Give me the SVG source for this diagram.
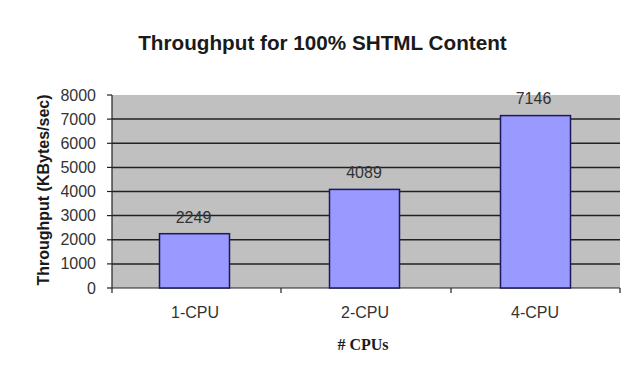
<svg xmlns="http://www.w3.org/2000/svg" width="627" height="371" viewBox="0 0 627 371">
<style>
.t{font-family:"Liberation Sans",Arial,sans-serif;font-size:16px;fill:#333}
.title{font-family:"Liberation Sans",Arial,sans-serif;font-size:20.7px;font-weight:bold;fill:#1a1a1a}
.ax{font-family:"Liberation Serif","Times New Roman",serif;font-size:16px;font-weight:bold;fill:#1a1a1a}
.yt{font-family:"Liberation Sans",Arial,sans-serif;font-size:16px;font-weight:bold;fill:#1a1a1a}
.grid{stroke:#222;stroke-width:1.5}
.bar{fill:#9999FF;stroke:#1a1a5a;stroke-width:1.5}
</style>
<rect width="627" height="371" fill="#ffffff"/>
<text class="title" x="322.5" y="50" text-anchor="middle">Throughput for 100% SHTML Content</text>
<g id="plot">
<rect x="112" y="95" width="508" height="193" fill="#c0c0c0"/>
<g class="grid">
<line x1="112" y1="119.1" x2="620" y2="119.1"/>
<line x1="112" y1="143.3" x2="620" y2="143.3"/>
<line x1="112" y1="167.4" x2="620" y2="167.4"/>
<line x1="112" y1="191.5" x2="620" y2="191.5"/>
<line x1="112" y1="215.6" x2="620" y2="215.6"/>
<line x1="112" y1="239.8" x2="620" y2="239.8"/>
<line x1="112" y1="263.9" x2="620" y2="263.9"/>
</g>
<g stroke="#222" stroke-width="1.2">
<line x1="112" y1="95" x2="112" y2="288"/>
<line x1="112" y1="288" x2="620" y2="288"/>
<line x1="107" y1="95" x2="112" y2="95"/>
<line x1="107" y1="119.1" x2="112" y2="119.1"/>
<line x1="107" y1="143.3" x2="112" y2="143.3"/>
<line x1="107" y1="167.4" x2="112" y2="167.4"/>
<line x1="107" y1="191.5" x2="112" y2="191.5"/>
<line x1="107" y1="215.6" x2="112" y2="215.6"/>
<line x1="107" y1="239.8" x2="112" y2="239.8"/>
<line x1="107" y1="263.9" x2="112" y2="263.9"/>
<line x1="107" y1="288" x2="112" y2="288"/>
<line x1="112" y1="288" x2="112" y2="293"/>
<line x1="281" y1="288" x2="281" y2="293"/>
<line x1="451" y1="288" x2="451" y2="293"/>
<line x1="620" y1="288" x2="620" y2="293"/>
</g>
</g>
<g id="yticks" class="t" text-anchor="end">
<text x="96" y="100.5">8000</text>
<text x="96" y="124.6">7000</text>
<text x="96" y="148.8">6000</text>
<text x="96" y="172.9">5000</text>
<text x="96" y="197">4000</text>
<text x="96" y="221.1">3000</text>
<text x="96" y="245.3">2000</text>
<text x="96" y="269.4">1000</text>
<text x="96" y="293.5">0</text>
</g>
<g id="bar1"><rect class="bar" x="159.5" y="233.7" width="70" height="54.3"/><text class="t" x="193.5" y="222.5" text-anchor="middle">2249</text></g>
<g id="bar2"><rect class="bar" x="329.5" y="189.4" width="70" height="98.6"/><text class="t" x="364" y="177.5" text-anchor="middle">4089</text></g>
<g id="bar3"><rect class="bar" x="500.5" y="115.6" width="70" height="172.4"/><text class="t" x="533.5" y="103.5" text-anchor="middle">7146</text></g>
<g id="xlabels" class="t" text-anchor="middle">
<text x="195" y="317.5">1-CPU</text>
<text x="365" y="317.5">2-CPU</text>
<text x="535" y="317.5">4-CPU</text>
</g>
<text class="ax" x="363" y="349.5" text-anchor="middle"># CPUs</text>
<text class="yt" transform="translate(49,190) rotate(-90)" text-anchor="middle">Throughput (KBytes/sec)</text>
</svg>
